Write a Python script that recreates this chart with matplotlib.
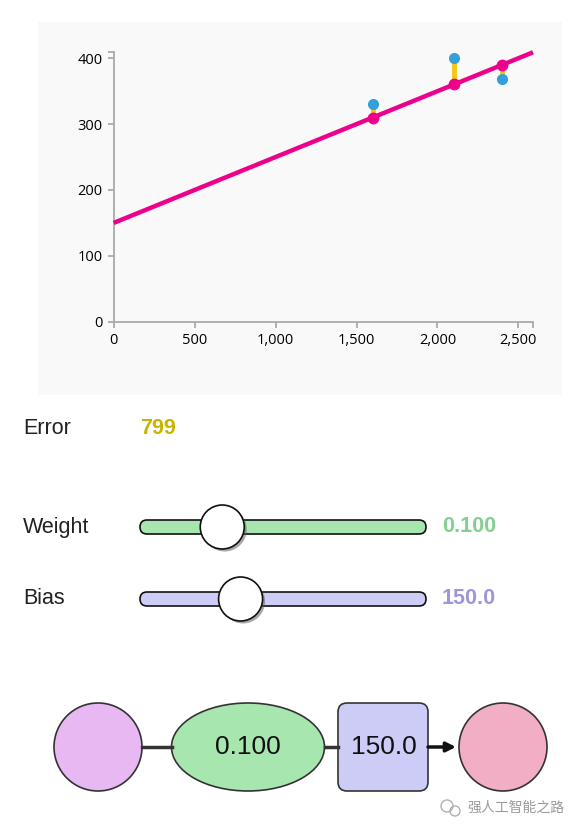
import matplotlib.pyplot as plt
from matplotlib.patches import Rectangle, Circle, Ellipse, FancyBboxPatch
import numpy as np

# house data (area in sq ft, price in $1000s)
area = [2104, 1600, 2400]
price = [399.9, 329.9, 369.0]
weight = 0.100
bias = 150.0
x_ticks = [0, 500, 1000, 1500, 2000, 2500]
y_ticks = [0, 100, 200, 300, 400]
x_max = 2590
y_max = 409
weight_range = (0.0, 0.4)
bias_range = (0.0, 460.0)

pred = [weight * a + bias for a in area]
error = np.mean((np.array(price) - np.array(pred)) ** 2)

W, H = 580, 836
fig = plt.figure(figsize=(W / 100, H / 100), dpi=100)
fig.patch.set_facecolor('white')

# background layer in pixel coords
bg = fig.add_axes([0, 0, 1, 1])
bg.set_xlim(0, W)
bg.set_ylim(H, 0)
bg.axis('off')
bg.add_patch(Rectangle((38, 22), 524, 373, facecolor='#f9f9f9', edgecolor='none'))

# chart
ax = fig.add_axes([113.7 / W, 1 - 321.7 / H, (533 - 113.7) / W, (321.7 - 52.3) / H])
ax.set_facecolor('none')
ax.set_xlim(0, x_max)
ax.set_ylim(0, y_max)
for s in ['top', 'right']:
    ax.spines[s].set_visible(False)
for s in ['left', 'bottom']:
    ax.spines[s].set_color('#aaaaaa')
    ax.spines[s].set_linewidth(1.3)
ax.set_xticks(x_ticks)
ax.set_xticklabels([f'{v:,}' for v in x_ticks])
ax.set_yticks(y_ticks)
ax.set_xticks([x_max], minor=True)
ax.set_yticks([y_max], minor=True)
ax.tick_params(which='both', length=4.5, width=1.3, color='#aaaaaa',
               labelsize=10.5, pad=3.5)
for lab in ax.get_xticklabels() + ax.get_yticklabels():
    lab.set_family('Open Sans')

ax.vlines(area, pred, price, color='#f5c70f', lw=3.5, zorder=2)
ax.plot([0, x_max], [bias, weight * x_max + bias], color='#ec008c', lw=3.2,
        solid_capstyle='butt', zorder=3, clip_on=False)
ax.plot(area, price, 'o', color='#34a0db', ms=8, mec='none', zorder=4)
ax.plot(area, pred, 'o', color='#ec008c', ms=8.5, mec='none', zorder=5)

lab_font = dict(family='Liberation Sans', fontsize=15.5, va='center')
val_font = dict(family='Liberation Sans', fontsize=15.5, va='center', weight='bold')

bg.text(23, 428, 'Error', color='#222222', **lab_font)
bg.text(140, 428, f'{error:.0f}', color='#c8b400', **val_font)


def slider(y, name, value, rng, fill, txt_color, fmt):
    bg.text(23, y, name, color='#222222', **lab_font)
    bg.add_patch(FancyBboxPatch((140, y - 7), 286, 14,
                                boxstyle='round,pad=0,rounding_size=7',
                                facecolor=fill, edgecolor='#111111', lw=1.2))
    frac = (value - rng[0]) / (rng[1] - rng[0])
    kx = 162 + frac * 241
    bg.add_patch(Circle((kx + 2.5, y + 2.5), 22, facecolor='#555555', alpha=0.5,
                        edgecolor='none'))
    bg.add_patch(Circle((kx, y), 22, facecolor='white', edgecolor='#111111', lw=1.2))
    bg.text(442, y, fmt.format(value), color=txt_color, **val_font)


slider(527, 'Weight', weight, weight_range, '#a8e6b0', '#84d08f', '{:.3f}')
slider(599, 'Bias', bias, bias_range, '#ccccf7', '#9d98d8', '{:.1f}')

# network diagram
cy = 747
bg.plot([142, 172], [cy, cy], color='#333333', lw=2.5)
bg.plot([325, 338], [cy, cy], color='#333333', lw=2.5)
bg.annotate('', xy=(456, cy), xytext=(428, cy),
            arrowprops=dict(arrowstyle='-|>', color='#111111', lw=2.5,
                            mutation_scale=14, shrinkA=0, shrinkB=0))
bg.add_patch(Circle((98, cy), 44, facecolor='#e8b8f2', edgecolor='#333333', lw=1.2))
bg.add_patch(Ellipse((248, cy), 153, 88, facecolor='#a8e6b0', edgecolor='#333333', lw=1.2))
bg.add_patch(FancyBboxPatch((338, 703), 90, 88,
                            boxstyle='round,pad=0,rounding_size=9',
                            facecolor='#ccccf7', edgecolor='#333333', lw=1.2))
bg.add_patch(Circle((503, cy), 44, facecolor='#f2aec4', edgecolor='#333333', lw=1.2))
bg.text(248, cy, f'{weight:.3f}', ha='center', va='center', fontsize=19,
        family='Liberation Sans', color='#111111')
bg.text(384, cy, f'{bias:.1f}', ha='center', va='center', fontsize=19,
        family='Liberation Sans', color='#111111')

# watermark
bg.text(565, 808, '强人工智能之路', ha='right', va='center', fontsize=10,
        family=['Noto Sans CJK SC', 'DejaVu Sans'], color='#9a9a9a')
bg.add_patch(Circle((447, 806), 6, facecolor='none', edgecolor='#b0b0b0', lw=1))
bg.add_patch(Circle((455, 811), 5, facecolor='none', edgecolor='#b0b0b0', lw=1))

fig.savefig('out.png', dpi=100)
